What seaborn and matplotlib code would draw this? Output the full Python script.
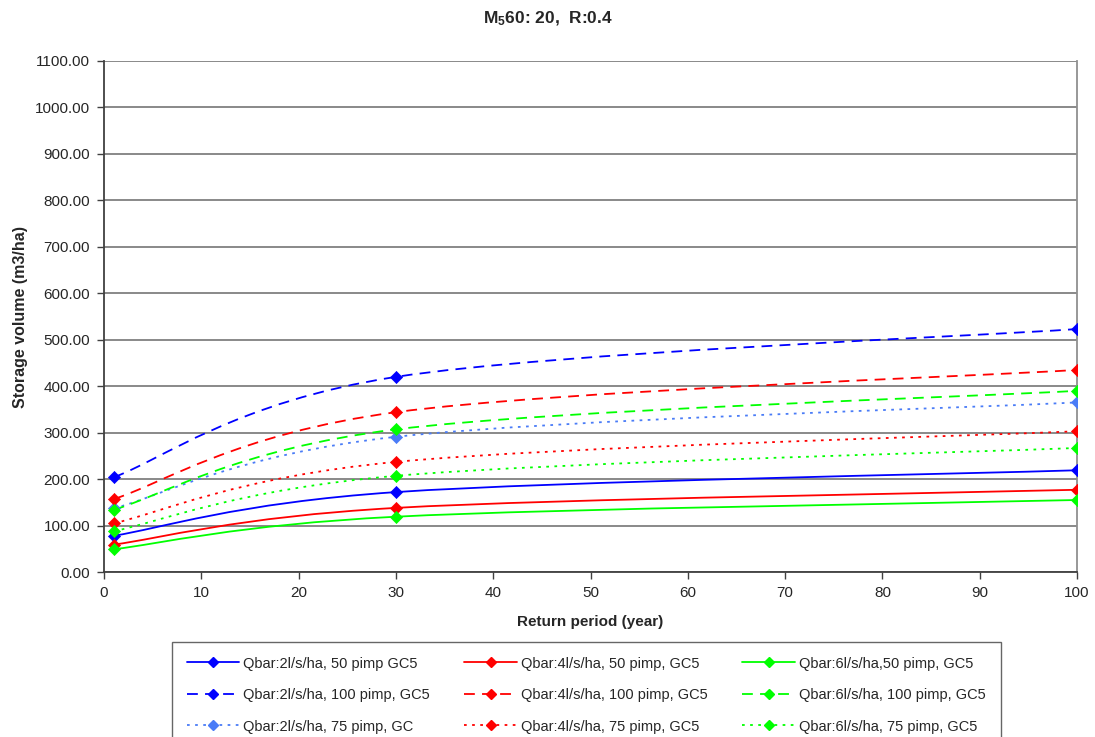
import numpy as np
import matplotlib
matplotlib.use('Agg')
import matplotlib.pyplot as plt
from matplotlib.path import Path
from matplotlib.patches import PathPatch
from matplotlib.lines import Line2D
import seaborn as sb

# Data
return_period = [1, 30, 100]

q2_50 = [78, 172, 219]
q2_100 = [204, 420, 523]
q2_75 = [137, 291, 365]
q4_50 = [59, 138, 177]
q4_100 = [157, 344, 435]
q4_75 = [105, 237, 303]
q6_50 = [49, 119, 155]
q6_100 = [134, 307, 390]
q6_75 = [88, 207, 267]

labels = ['Qbar:2l/s/ha, 50 pimp GC5', 'Qbar:2l/s/ha, 100 pimp, GC5', 'Qbar:2l/s/ha, 75 pimp, GC',
          'Qbar:4l/s/ha, 50 pimp, GC5', 'Qbar:4l/s/ha, 100 pimp, GC5', 'Qbar:4l/s/ha, 75 pimp, GC5',
          'Qbar:6l/s/ha,50 pimp, GC5', 'Qbar:6l/s/ha, 100 pimp, GC5', 'Qbar:6l/s/ha, 75 pimp, GC5']
series = [q2_50, q2_100, q2_75, q4_50, q4_100, q4_75, q6_50, q6_100, q6_75]
colors = ['#0000FF', '#0000FF', '#4A7CF7', '#FF0000', '#FF0000', '#FF0000',
          '#00FF00', '#00FF00', '#00FF00']
styles = ['-', (0, (6, 4)), (0, (1.5, 3)), '-', (0, (6, 4)), (0, (1.5, 3)),
          '-', (0, (6, 4)), (0, (1.5, 3))]

sb.set_style('white')
plt.rcParams['font.family'] = ['Liberation Sans', 'DejaVu Sans']
plt.rcParams['mathtext.fontset'] = 'custom'
plt.rcParams['mathtext.rm'] = 'Liberation Sans'
plt.rcParams['mathtext.bf'] = 'Liberation Sans:bold'


def smooth_path(xs, ys):
    # excel style smoothed line: bezier segments through the points
    pts = list(zip(xs, ys))
    n = len(pts)
    verts = [pts[0]]
    codes = [Path.MOVETO]
    for i in range(n - 1):
        p0 = pts[max(i - 1, 0)]
        p1 = pts[i]
        p2 = pts[i + 1]
        p3 = pts[min(i + 2, n - 1)]
        c1 = (p1[0] + (p2[0] - p0[0]) / 6, p1[1] + (p2[1] - p0[1]) / 6)
        c2 = (p2[0] - (p3[0] - p1[0]) / 6, p2[1] - (p3[1] - p1[1]) / 6)
        verts += [c1, c2, p2]
        codes += [Path.CURVE4] * 3
    return Path(verts, codes)


fig = plt.figure(figsize=(10.95, 7.37), dpi=100)
ax = fig.add_axes([104 / 1095, 1 - 572 / 737, (1077 - 104) / 1095, (572 - 61) / 737])

handles = []
for vals, lab, col, ls in zip(series, labels, colors, styles):
    patch = PathPatch(smooth_path(return_period, vals), facecolor='none', edgecolor=col,
                      linestyle=ls, linewidth=1.3, zorder=3)
    ax.add_patch(patch)
    sb.scatterplot(x=return_period, y=vals, marker='D', s=38, color=col,
                   edgecolor=col, linewidth=0.5, zorder=4, ax=ax, legend=False)
    handles.append(Line2D([], [], color=col, linestyle=ls, linewidth=1.3,
                          marker='D', markersize=5.5, markeredgecolor=col, label=lab))

ax.set_xlim(0, 100)
ax.set_ylim(0, 1100)
ax.set_xticks(np.arange(0, 101, 10))
ax.set_yticks(np.arange(0, 1101, 100))
ax.set_yticklabels(['%.2f' % v for v in np.arange(0, 1101, 100)])
ax.grid(axis='y', color='#808080', linewidth=1.3)
ax.grid(axis='x', visible=False)
ax.set_axisbelow(True)
ax.tick_params(axis='both', direction='out', length=5, width=1, color='#404040',
               labelsize=11, left=True, bottom=True, pad=5)
for s in ['left', 'bottom']:
    ax.spines[s].set_color('#404040')
    ax.spines[s].set_linewidth(1.3)
ax.spines['right'].set_color('#909090')
ax.spines['right'].set_linewidth(1.3)
ax.spines['top'].set_visible(False)

ax.set_xlabel('Return period (year)', fontsize=11, fontweight='bold', labelpad=11)
ax.set_ylabel('Storage volume (m3/ha)', fontsize=11.5, fontweight='bold', labelpad=5)
fig.text(0.5, 1 - 19 / 737, r'M$\mathbf{_5}$60: 20,  R:0.4', ha='center', va='center',
         fontsize=12.5, fontweight='bold')

leg = fig.legend(handles=handles, ncol=3, loc='upper left',
                 bbox_to_anchor=(172 / 1095, 1 - 642 / 737), fontsize=10.5,
                 frameon=True, fancybox=False, edgecolor='#404040', handlelength=3.6,
                 handletextpad=0.3, columnspacing=2.35, labelspacing=1.2,
                 borderpad=1.0, borderaxespad=0, numpoints=1)
leg.get_frame().set_linewidth(1.0)

fig.savefig('out.png', dpi=100)
